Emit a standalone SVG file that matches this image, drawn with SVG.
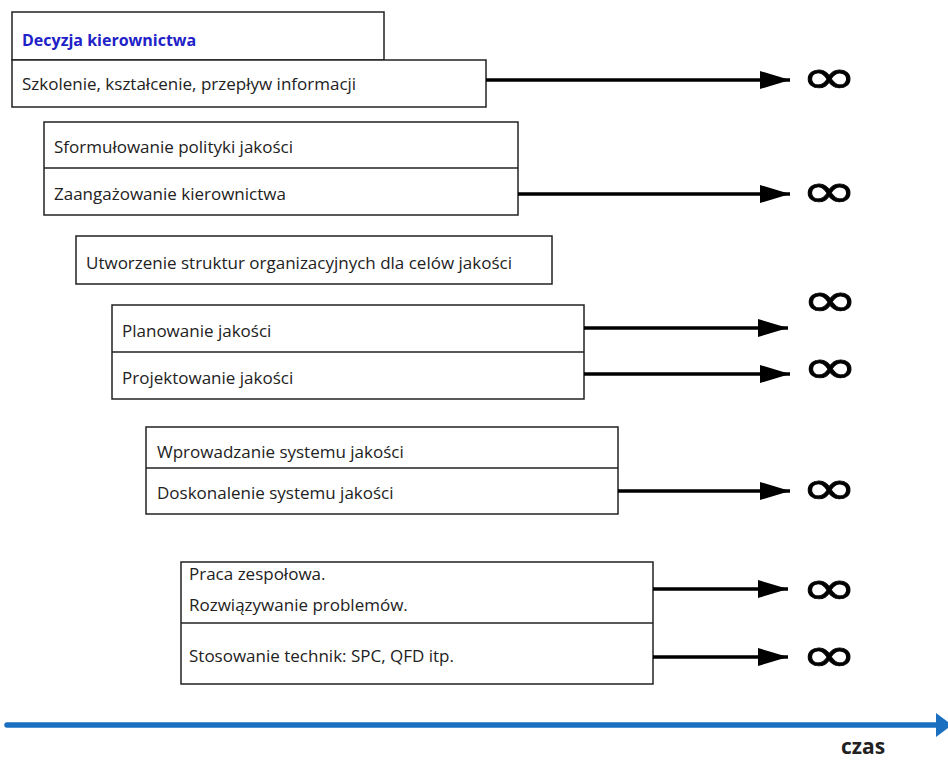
<svg xmlns="http://www.w3.org/2000/svg" width="948" height="760" viewBox="0 0 948 760">
<defs>
<style>
.box{fill:#fff;stroke:#222;stroke-width:1.5}
.t{font-family:"Open Sans","Liberation Sans",sans-serif;font-size:17px;fill:#222}
.tb{font-family:"Open Sans","Liberation Sans",sans-serif;font-size:16px;font-weight:bold;fill:#2121c8}
.conn{stroke:#000;stroke-width:3.5;fill:none;marker-end:url(#ah)}
.inf{font-family:"DejaVu Sans",sans-serif;font-size:50px;fill:#000;stroke:#000;stroke-width:0.8}
.czas{font-family:"Open Sans","Liberation Sans",sans-serif;font-size:21px;font-weight:bold;fill:#222}
</style>
<marker id="ah" markerUnits="userSpaceOnUse" markerWidth="32" markerHeight="20" refX="30" refY="10" orient="auto">
<path d="M0,1 L30,10 L0,19 z" fill="#000"/>
</marker>
</defs>
<rect width="948" height="760" fill="#fff"/>

<g id="n1">
<rect class="box" x="12" y="12" width="372" height="48"/>
<text class="tb" x="22" y="46">Decyzja kierownictwa</text>
<rect class="box" x="12" y="60" width="474" height="47"/>
<text class="t" x="22" y="90">Szkolenie, kształcenie, przepływ informacji</text>
</g>

<g id="n2">
<rect class="box" x="44" y="122" width="474" height="93"/>
<line x1="44" y1="168" x2="518" y2="168" stroke="#222" stroke-width="1.5"/>
<text class="t" x="54" y="153">Sformułowanie polityki jakości</text>
<text class="t" x="54" y="200">Zaangażowanie kierownictwa</text>
</g>

<g id="n3">
<rect class="box" x="76" y="236" width="476" height="48"/>
<text class="t" x="86" y="269">Utworzenie struktur organizacyjnych dla celów jakości</text>
</g>

<g id="n4">
<rect class="box" x="112" y="305" width="472" height="94"/>
<line x1="112" y1="352" x2="584" y2="352" stroke="#222" stroke-width="1.5"/>
<text class="t" x="122" y="337">Planowanie jakości</text>
<text class="t" x="122" y="384">Projektowanie jakości</text>
</g>

<g id="n5">
<rect class="box" x="146" y="427" width="472" height="87"/>
<line x1="146" y1="468" x2="618" y2="468" stroke="#222" stroke-width="1.5"/>
<text class="t" x="157" y="458">Wprowadzanie systemu jakości</text>
<text class="t" x="157" y="499">Doskonalenie systemu jakości</text>
</g>

<g id="n6">
<rect class="box" x="181" y="562" width="472" height="122"/>
<line x1="181" y1="623" x2="653" y2="623" stroke="#222" stroke-width="1.5"/>
<text class="t" x="189" y="580">Praca zespołowa.</text>
<text class="t" x="189" y="611">Rozwiązywanie problemów.</text>
<text class="t" x="189" y="662">Stosowanie technik: SPC, QFD itp.</text>
</g>

<g id="connectors">
<line class="conn" x1="486" y1="80" x2="790" y2="80"/>
<line class="conn" x1="518" y1="194" x2="790" y2="194"/>
<line class="conn" x1="584" y1="328" x2="788" y2="328"/>
<line class="conn" x1="584" y1="374" x2="790" y2="374"/>
<line class="conn" x1="618" y1="491" x2="790" y2="491"/>
<line class="conn" x1="653" y1="589" x2="788" y2="589"/>
<line class="conn" x1="653" y1="657" x2="788" y2="657"/>
</g>

<g id="infinity">
<text class="inf" transform="translate(829,93) scale(1.35,0.95)" text-anchor="middle">∞</text>
<text class="inf" transform="translate(829,207) scale(1.35,0.95)" text-anchor="middle">∞</text>
<text class="inf" transform="translate(830,316) scale(1.35,0.95)" text-anchor="middle">∞</text>
<text class="inf" transform="translate(830,383) scale(1.35,0.95)" text-anchor="middle">∞</text>
<text class="inf" transform="translate(829,504) scale(1.35,0.95)" text-anchor="middle">∞</text>
<text class="inf" transform="translate(829,604) scale(1.35,0.95)" text-anchor="middle">∞</text>
<text class="inf" transform="translate(829,671) scale(1.35,0.95)" text-anchor="middle">∞</text>
</g>

<g id="axis">
<line x1="7" y1="725" x2="938" y2="725" stroke="#1a6fc0" stroke-width="5.5" stroke-linecap="round"/>
<path d="M936,713 L952,725 L936,737 z" fill="#1a6fc0"/>
<text class="czas" x="841" y="754">czas</text>
</g>
</svg>
